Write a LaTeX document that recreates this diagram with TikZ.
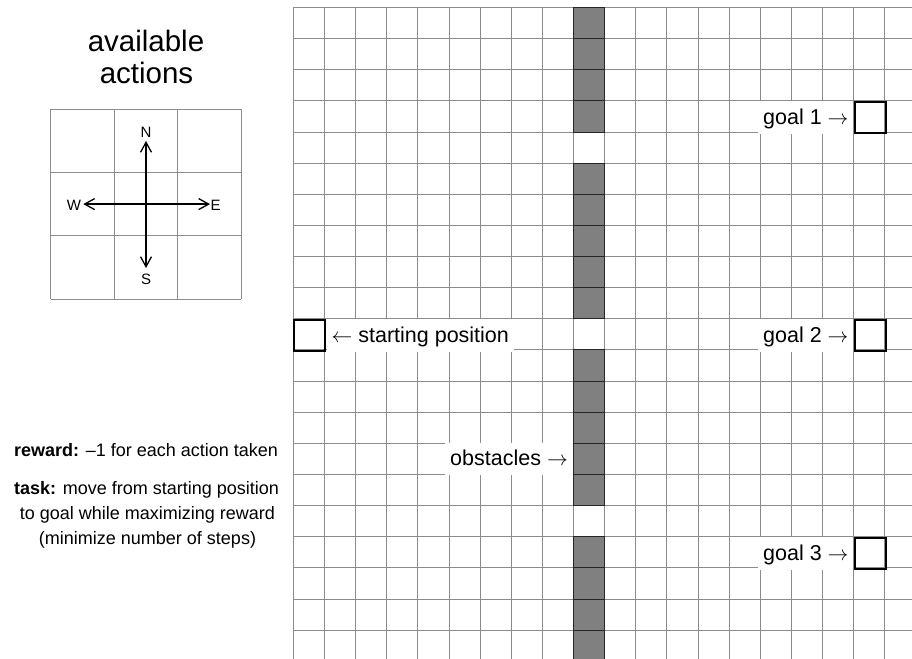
\documentclass[tikz,border=0pt]{standalone}
\usepackage{fontspec}
\setmainfont{Liberation Sans}
\usetikzlibrary{arrows.meta}

% grid geometry (in pt, y grows downward)
\def\cellsz{31.13}
\def\gridx{293.3}
\def\gridy{7.5}
\def\obstx{573.47}

\begin{document}
\begin{tikzpicture}[x=1pt,y=-1pt,
  gridline/.style={draw=black!45,line width=0.9pt},
  obstcell/.style={fill=black!50,draw=black!85,line width=0.9pt},
  marker/.style={draw=black,line width=2pt,inner sep=0pt,outer sep=1pt,
    minimum width=\cellsz pt,minimum height=\cellsz pt},
  tag/.style={fill=white,inner xsep=5pt,inner ysep=0pt,minimum height=32.5pt,
    text height=17pt,text depth=3.5pt,font=\fontsize{21.5}{25}\selectfont},
  titletext/.style={anchor=base,inner sep=0pt,font=\fontsize{29.5}{33}\selectfont},
  notetext/.style={anchor=base,inner sep=0pt,font=\fontsize{18}{22}\selectfont},
  dirtext/.style={inner sep=0pt,font=\fontsize{15}{17}\selectfont},
  move/.style={line width=1.3pt,-{Straight Barb[length=10pt,width=11pt]}}
]
\useasboundingbox (0,0) rectangle (912,658);
\clip (0,0) rectangle (912,658);

% ---------- gridworld ----------
\foreach \i in {0,...,20}
  \draw[gridline] ({\gridx+\i*\cellsz},\gridy) -- ({\gridx+\i*\cellsz},662);
\foreach \j in {0,...,21}
  \draw[gridline] (\gridx,{\gridy+\j*\cellsz}) -- (917,{\gridy+\j*\cellsz});

% wall of obstacles with three openings
\foreach \r in {0,1,2,3,5,6,7,8,9,11,12,13,14,15,17,18,19,20}
  \draw[obstcell] (\obstx,{\gridy+\r*\cellsz}) rectangle ++(\cellsz,\cellsz);

% start and goal cells
\node[marker,anchor=north west] (start) at (\gridx,{\gridy+10*\cellsz}) {};
\node[marker,anchor=north west] (goalA) at ({\gridx+18*\cellsz},{\gridy+3*\cellsz}) {};
\node[marker,anchor=north west] (goalB) at ({\gridx+18*\cellsz},{\gridy+10*\cellsz}) {};
\node[marker,anchor=north west] (goalC) at ({\gridx+18*\cellsz},{\gridy+17*\cellsz}) {};
\coordinate (wallrow) at ({\obstx-0.5},{\gridy+14.5*\cellsz});

% labels
\node[tag,anchor=west] (startlbl) at (start.east) {$\leftarrow$ starting position};
\node[tag,anchor=east] (goalAlbl) at (goalA.west) {goal 1 $\rightarrow$};
\node[tag,anchor=east] (goalBlbl) at (goalB.west) {goal 2 $\rightarrow$};
\node[tag,anchor=east] (goalClbl) at (goalC.west) {goal 3 $\rightarrow$};
\node[tag,anchor=east] (obstlbl) at (wallrow) {obstacles $\rightarrow$};

% ---------- available actions ----------
\node[titletext] (titleA) at (146,52) {available};
\node[titletext] (titleB) at (146.5,83.5) {actions};

\foreach \i in {0,...,3} {
  \draw[gridline] ({50.7+\i*63.53},109.3) -- ({50.7+\i*63.53},299);
  \draw[gridline] (50.7,{109.3+\i*63.23}) -- (241.3,{109.3+\i*63.23});
}

\coordinate (ctr) at (146,204.1);
\coordinate (tipN) at (146,141);
\coordinate (tipS) at (146,268);
\coordinate (tipW) at (83.3,204.1);
\coordinate (tipE) at (210,204.1);
\draw[move] (ctr) -- (tipN);
\draw[move] (ctr) -- (tipS);
\draw[move] (ctr) -- (tipW);
\draw[move] (ctr) -- (tipE);
\node[dirtext] (labN) at (146,132) {N};
\node[dirtext] (labS) at (146,279) {S};
\node[dirtext] (labW) at (74,205) {W};
\node[dirtext] (labE) at (215.5,205) {E};

% ---------- reward and task ----------
\node[notetext] (rewardln) at (146,456) {\textbf{reward:} –1 for each action taken};
\node[notetext] (taskA) at (146.5,494) {\textbf{task:} move from starting position};
\node[notetext] (taskB) at (147.5,519.5) {to goal while maximizing reward};
\node[notetext] (taskC) at (147.5,544.5) {(minimize number of steps)};
\end{tikzpicture}
\end{document}
